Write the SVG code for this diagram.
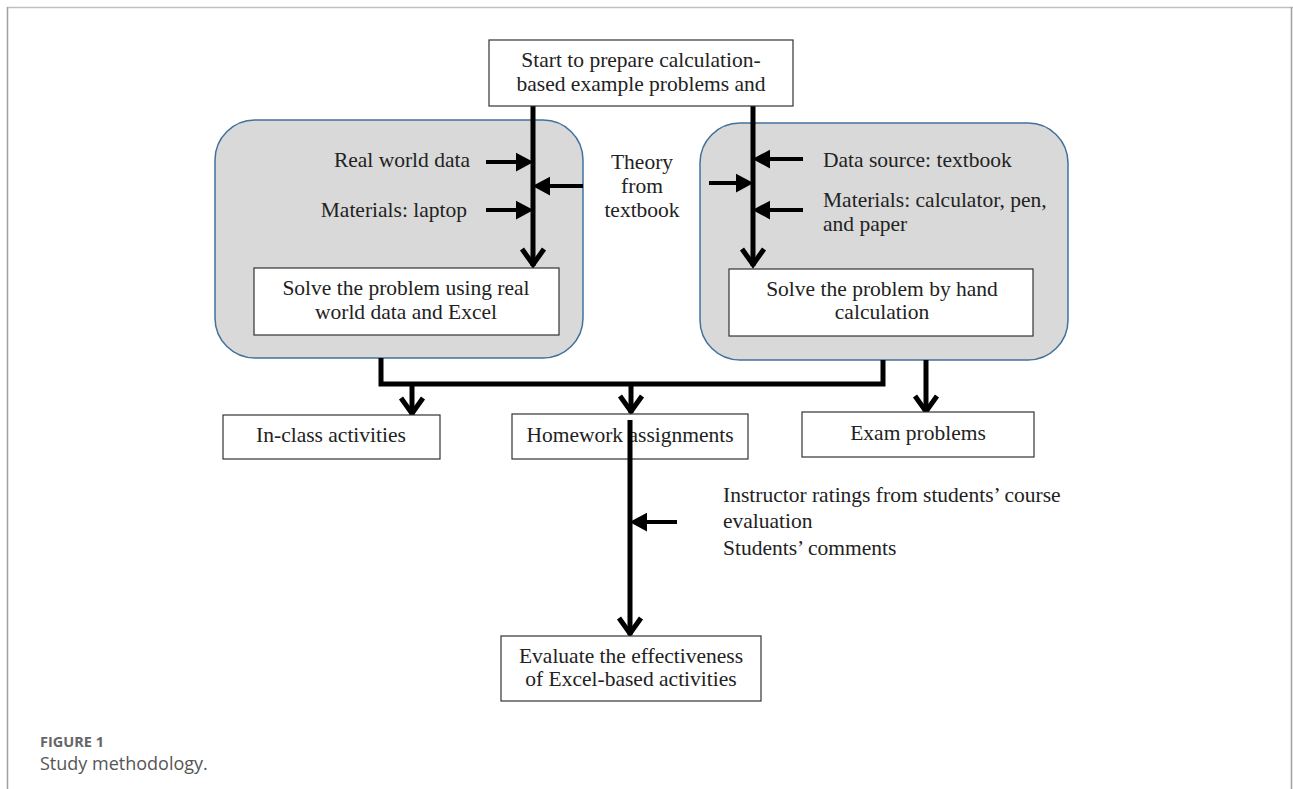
<svg xmlns="http://www.w3.org/2000/svg" width="1293" height="789" viewBox="0 0 1293 789">
<style>
.t{font-family:"Liberation Serif","Times New Roman",serif;font-size:21.5px;fill:#222}
.box{fill:#fff;stroke:#333;stroke-width:1.2}
.grp{fill:#d9d9d9;stroke:#41719c;stroke-width:1.5}
.main{stroke:#000;stroke-width:5;fill:none}
.thin{stroke:#000;stroke-width:4;fill:none}
</style>
<defs>
<marker id="v" markerUnits="userSpaceOnUse" orient="auto" markerWidth="30" markerHeight="30" refX="0" refY="0" viewBox="-20 -15 22 30" overflow="visible">
<path d="M -17 -11 L -1.5 0 L -17 11" fill="none" stroke="#000" stroke-width="5"/>
</marker>
<marker id="tri" markerUnits="userSpaceOnUse" orient="auto" markerWidth="20" markerHeight="20" refX="0" refY="0" viewBox="-5 -8 16 16" overflow="visible">
<path d="M -4 -7.5 L 10 0 L -4 7.5 z" fill="#000"/>
</marker>
</defs>
<rect width="1293" height="789" fill="#fff"/>
<g id="frame">
<line x1="7" y1="7.5" x2="1293" y2="7.5" stroke="#c0c0c0" stroke-width="1.5"/>
<line x1="7.5" y1="7" x2="7.5" y2="789" stroke="#a0a0a0" stroke-width="1.5"/>
<line x1="1291.5" y1="7" x2="1291.5" y2="789" stroke="#a0a0a0" stroke-width="1.5"/>
</g>
<g id="group-excel"><rect class="grp" x="215" y="120" width="368" height="238" rx="40"/></g>
<g id="group-hand"><rect class="grp" x="700" y="123" width="368" height="237" rx="40"/></g>
<g id="connectors">
<line class="main" x1="533" y1="106" x2="533" y2="266" marker-end="url(#v)"/>
<line class="main" x1="753" y1="106" x2="753" y2="266" marker-end="url(#v)"/>
<line class="thin" x1="486" y1="162" x2="521" y2="162" marker-end="url(#tri)"/>
<line class="thin" x1="486" y1="210" x2="521" y2="210" marker-end="url(#tri)"/>
<line class="thin" x1="583" y1="186" x2="545" y2="186" marker-end="url(#tri)"/>
<line class="thin" x1="803" y1="159" x2="765" y2="159" marker-end="url(#tri)"/>
<line class="thin" x1="709" y1="183" x2="741" y2="183" marker-end="url(#tri)"/>
<line class="thin" x1="803" y1="210" x2="765" y2="210" marker-end="url(#tri)"/>
<polyline class="main" points="381,358 381,384 883,384 883,360" stroke-linejoin="miter"/>
<line class="main" x1="412" y1="384" x2="412" y2="415" marker-end="url(#v)"/>
<line class="main" x1="631" y1="384" x2="631" y2="413" marker-end="url(#v)"/>
<line class="main" x1="926" y1="360" x2="926" y2="413" marker-end="url(#v)"/>
<line class="thin" x1="677" y1="522" x2="642" y2="522" marker-end="url(#tri)"/>
</g>
<g id="start">
<rect class="box" x="489" y="40" width="304" height="66"/>
<text class="t" x="641" y="67" text-anchor="middle">Start to prepare calculation-</text>
<text class="t" x="641" y="91" text-anchor="middle">based example problems and</text>
</g>
<g id="lbl-real"><text class="t" x="470" y="167" text-anchor="end">Real world data</text></g>
<g id="lbl-laptop"><text class="t" x="467" y="217" text-anchor="end">Materials: laptop</text></g>
<g id="lbl-theory">
<text class="t" x="642" y="169" text-anchor="middle">Theory</text>
<text class="t" x="642" y="193" text-anchor="middle">from</text>
<text class="t" x="642" y="217" text-anchor="middle">textbook</text>
</g>
<g id="lbl-datasource"><text class="t" x="823" y="167">Data source: textbook</text></g>
<g id="lbl-materials">
<text class="t" x="823" y="207">Materials: calculator, pen,</text>
<text class="t" x="823" y="231">and paper</text>
</g>
<g id="solve-excel">
<rect class="box" x="254" y="268" width="305" height="67"/>
<text class="t" x="406" y="295" text-anchor="middle">Solve the problem using real</text>
<text class="t" x="406" y="319" text-anchor="middle">world data and Excel</text>
</g>
<g id="solve-hand">
<rect class="box" x="729" y="269" width="304" height="67"/>
<text class="t" x="882" y="296" text-anchor="middle">Solve the problem by hand</text>
<text class="t" x="882" y="319" text-anchor="middle">calculation</text>
</g>
<g id="inclass">
<rect class="box" x="223" y="415" width="217" height="44"/>
<text class="t" x="331" y="442" text-anchor="middle">In-class activities</text>
</g>
<g id="homework">
<rect class="box" x="512" y="414" width="236" height="45"/>
<text class="t" x="630" y="442" text-anchor="middle">Homework assignments</text>
</g>
<g id="exam">
<rect class="box" x="802" y="412" width="232" height="45"/>
<text class="t" x="918" y="440" text-anchor="middle">Exam problems</text>
</g>
<g id="connector-eval">
<line class="main" x1="630" y1="420" x2="630" y2="635" marker-end="url(#v)"/>
</g>
<g id="lbl-ratings">
<text class="t" x="723" y="502">Instructor ratings from students’ course</text>
<text class="t" x="723" y="528">evaluation</text>
<text class="t" x="723" y="555">Students’ comments</text>
</g>
<g id="evaluate">
<rect class="box" x="501" y="636" width="260" height="65"/>
<text class="t" x="631" y="663" text-anchor="middle">Evaluate the effectiveness</text>
<text class="t" x="631" y="686" text-anchor="middle">of Excel-based activities</text>
</g>
<g id="caption">
<text x="40" y="747" font-family="'Open Sans','Noto Sans',sans-serif" font-size="14.5" font-weight="bold" fill="#666">FIGURE 1</text>
<text x="40" y="770" font-family="'Open Sans','Noto Sans',sans-serif" font-size="18" fill="#555">Study methodology.</text>
</g>
</svg>
